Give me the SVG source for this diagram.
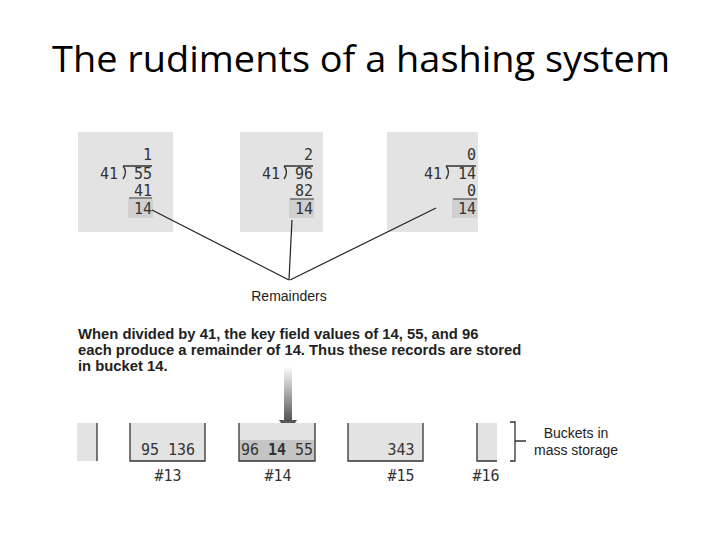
<svg xmlns="http://www.w3.org/2000/svg" width="720" height="540" viewBox="0 0 720 540">
<defs>
<linearGradient id="ag" x1="0" y1="0" x2="0" y2="1"><stop offset="0" stop-color="#fff"/><stop offset="1" stop-color="#555"/></linearGradient>
<style>
.t{font-family:"Liberation Sans",Arial,sans-serif;fill:#222}
.m{font-family:"DejaVu Sans Mono","Liberation Mono",monospace;font-size:15px;fill:#333}
.box{fill:#e3e3e3}
.b{fill:none;stroke:#333;stroke-width:1.3}
</style>
</defs>
<text x="52" y="72" textLength="618" lengthAdjust="spacingAndGlyphs" font-family="Open Sans, Liberation Sans, Arial, sans-serif" font-size="36" fill="#000">The rudiments of a hashing system</text>
<g id="div1"><rect class="box" x="78" y="132" width="95" height="100"/>
<rect x="128" y="199" width="25" height="19" fill="#d0d0d0"/>
<text class="m" x="152" y="160" text-anchor="end">1</text>
<text class="m" x="100" y="179">41</text>
<path d="M123 166 q5 6 0 13 M123 166 H152" class="b" stroke-width="1"/>
<text class="m" x="152" y="179" text-anchor="end">55</text>
<text class="m" x="152" y="196" text-anchor="end">41</text>
<line x1="129" y1="198" x2="152" y2="198" stroke="#333"/>
<text class="m" x="152" y="214" text-anchor="end">14</text></g>
<g id="div2"><rect class="box" x="240" y="132" width="83" height="100"/>
<rect x="289" y="199" width="25" height="19" fill="#d0d0d0"/>
<text class="m" x="313" y="160" text-anchor="end">2</text>
<text class="m" x="262" y="179">41</text>
<path d="M284 166 q5 6 0 13 M284 166 H313" class="b" stroke-width="1"/>
<text class="m" x="313" y="179" text-anchor="end">96</text>
<text class="m" x="313" y="196" text-anchor="end">82</text>
<line x1="290" y1="199" x2="314" y2="199" stroke="#333"/>
<text class="m" x="313" y="214" text-anchor="end">14</text></g>
<g id="div3"><rect class="box" x="387" y="132" width="91" height="100"/>
<rect x="452" y="199" width="25" height="19" fill="#d0d0d0"/>
<text class="m" x="476" y="160" text-anchor="end">0</text>
<text class="m" x="424" y="179">41</text>
<path d="M446 166 q5 6 0 13 M446 166 H476" class="b" stroke-width="1"/>
<text class="m" x="476" y="179" text-anchor="end">14</text>
<text class="m" x="476" y="196" text-anchor="end">0</text>
<line x1="453" y1="199" x2="477" y2="199" stroke="#333"/>
<text class="m" x="476" y="214" text-anchor="end">14</text></g>
<g id="connectors" stroke="#222" stroke-width="1.2" fill="none">
<line x1="152" y1="210" x2="289" y2="280"/>
<line x1="292" y1="220" x2="289" y2="280"/>
<line x1="436" y1="208" x2="290" y2="280"/>
<rect x="284" y="366" width="8" height="54" fill="url(#ag)" stroke="none"/>
<polygon points="279,420 297,420 288,434" fill="#555" stroke="none"/>
</g>
<g id="remainders"><text class="t" x="289" y="301" text-anchor="middle" font-size="14">Remainders</text></g>
<g id="caption"><text class="t" font-size="14.8" font-weight="bold"><tspan x="78" y="339">When divided by 41, the key field values of 14, 55, and 96</tspan><tspan x="78" y="355">each produce a remainder of 14. Thus these records are stored</tspan><tspan x="78" y="371">in bucket 14.</tspan></text></g>
<g id="b12"><rect class="box" x="77" y="423" width="20" height="38"/><path class="b" d="M97 423V461"/></g>
<g id="b13"><rect class="box" x="130" y="423" width="75" height="38"/><path class="b" d="M130 423V461H205V423"/><text class="m" x="168" y="455" text-anchor="middle" font-size="16">95  136</text><text class="m" x="168" y="481" text-anchor="middle" font-size="16">#13</text></g>
<g id="b14"><rect class="box" x="239" y="423" width="76" height="38"/><rect x="239" y="440" width="76" height="21" fill="#c4c4c4"/><path class="b" d="M239 423V461H315V423"/><text class="m" x="277" y="455" text-anchor="middle" font-size="16">96 <tspan font-weight="bold">14</tspan> 55</text><text class="m" x="278" y="481" text-anchor="middle" fill="#888" font-size="16">#14</text></g>
<g id="b15"><rect class="box" x="348" y="423" width="75" height="38"/><path class="b" d="M348 423V461H423V423"/><text class="m" x="401" y="455" text-anchor="middle" font-size="16">343</text><text class="m" x="401" y="481" text-anchor="middle" font-size="16">#15</text></g>
<g id="b16"><rect class="box" x="477" y="423" width="20" height="38"/><path class="b" d="M477 423V461H497"/><text class="m" x="486" y="481" text-anchor="middle" font-size="16">#16</text></g>
<g id="label"><path class="b" d="M510 422H515V461H510M515 441H526"/><text class="t" font-size="14" text-anchor="middle"><tspan x="576" y="438">Buckets in</tspan><tspan x="576" y="455">mass storage</tspan></text></g>
</svg>
